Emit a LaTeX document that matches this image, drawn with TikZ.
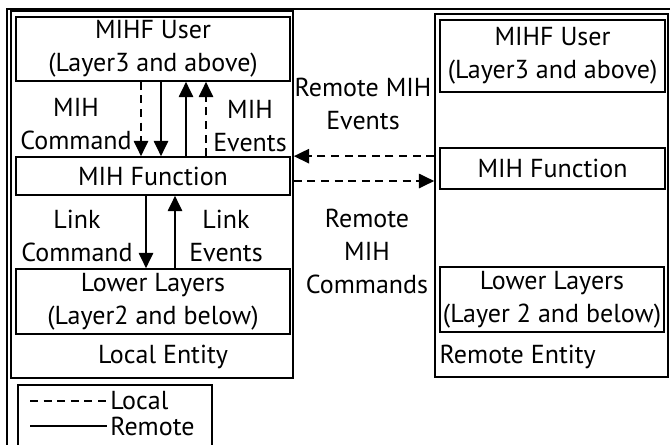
\documentclass[tikz,border=0pt]{standalone}
\usepackage{fontspec}
\setmainfont{PT Sans}
\usetikzlibrary{arrows.meta}

\begin{document}
\begin{tikzpicture}[
  font=\fontsize{18.5}{23.5}\selectfont,
  layerbox/.style={draw,line width=1.2pt,inner sep=0pt,align=center},
  entbox/.style={draw,line width=1.2pt,inner sep=0pt},
  lbl/.style={align=center,inner sep=1pt},
  sig/.style={line width=1pt,-{Triangle[length=0.38cm,width=0.36cm]}},
  localline/.style={line width=1pt,dash pattern=on 0.2cm off 0.14cm},
]
\useasboundingbox (0,0) rectangle (16.75,11.1);

%\draw[step=0.5cm,gray,very thin] (0,0) grid (16.75,11.1); %background grid
\draw[line width=1.2pt] (0.175,-0.3) -- (0.175,10.875) -- (16.75,10.875);

%---------------------------------------------------
%local entity
\node[entbox,minimum width=7.05cm,minimum height=9.175cm] (entL) at (3.8,6.2375) {};
\node[layerbox,minimum width=6.85cm,minimum height=1.6cm] (userL) at (3.825,9.875) {MIHF User\\(Layer3 and above)};
\node[layerbox,minimum width=6.85cm,minimum height=0.95cm] (funcL) at (3.825,6.7) {MIH Function};
\node[layerbox,minimum width=6.85cm,minimum height=1.625cm] (lowL) at (3.825,3.5625) {Lower Layers\\(Layer2 and below)};
\node[lbl] (nameL) at (4.075,2.175) {Local Entity};

%---------------------------------------------------
%remote entity
\node[entbox,minimum width=5.825cm,minimum height=9.075cm] (entR) at (13.7875,6.2125) {};
\node[layerbox,minimum width=5.625cm,minimum height=1.8cm] (userR) at (13.8125,9.7) {MIHF User\\(Layer3 and above)};
\node[layerbox,minimum width=5.625cm,minimum height=1.025cm] (funcR) at (13.8125,6.8875) {MIH Function};
\node[layerbox,minimum width=5.6cm,minimum height=1.625cm] (lowR) at (13.8,3.6125) {Lower Layers\\(Layer 2 and below)};
\node[lbl,anchor=west] (nameR) at (10.95,2.175) {Remote Entity};

%---------------------------------------------------
%user <-> function
\draw[sig,localline] ([xshift=-0.3cm]userL.south) -- ([xshift=-0.3cm]funcL.north);
\draw[sig] ([xshift=0.2cm]userL.south) -- ([xshift=0.2cm]funcL.north);
\draw[sig] ([xshift=0.825cm]funcL.north) -- ([xshift=0.825cm]userL.south);
\draw[sig,localline] ([xshift=1.325cm]funcL.north) -- ([xshift=1.325cm]userL.south);
\node[lbl] (cmdL) at (1.9,8.01) {MIH\\Command};
\node[lbl] (evtL) at (6.25,7.95) {MIH\\Events};

%function <-> lower layers
\draw[sig] ([xshift=-0.175cm]funcL.south) -- ([xshift=-0.175cm]lowL.north);
\draw[sig] ([xshift=0.55cm]lowL.north) -- ([xshift=0.55cm]funcL.south);
\node[lbl] (lnkcmdL) at (1.925,5.2) {Link\\Command};
\node[lbl] (lnkevtL) at (5.65,5.2) {Link\\Events};

%---------------------------------------------------
%remote signals
\draw[sig,localline] (entR.west |- funcL.north) -- (entL.east |- funcL.north);
\draw[sig,localline] (entL.east |- 0,6.575) -- (entR.west |- 0,6.575);
\node[lbl] (revt) at (9.075,8.5) {Remote MIH\\Events};
\node[lbl] (rcmd) at (9.175,4.81) {Remote\\MIH\\Commands};

%---------------------------------------------------
%legend
\draw[line width=1.2pt] (0.45,-0.3) rectangle (5.3,1.475);
\coordinate (lgA) at (0.75,1.08);
\coordinate (lgB) at (0.75,0.45);
\node[lbl,inner sep=0pt,anchor=west] (lgLocal) at (2.75,1.08) {Local};
\node[lbl,inner sep=0pt,anchor=west] (lgRemote) at (2.75,0.45) {Remote};
\draw[localline] (lgA) -- ([xshift=-0.08cm]lgLocal.west);
\draw[line width=1pt] (lgB) -- ([xshift=-0.08cm]lgRemote.west);

\end{tikzpicture}
\end{document}
